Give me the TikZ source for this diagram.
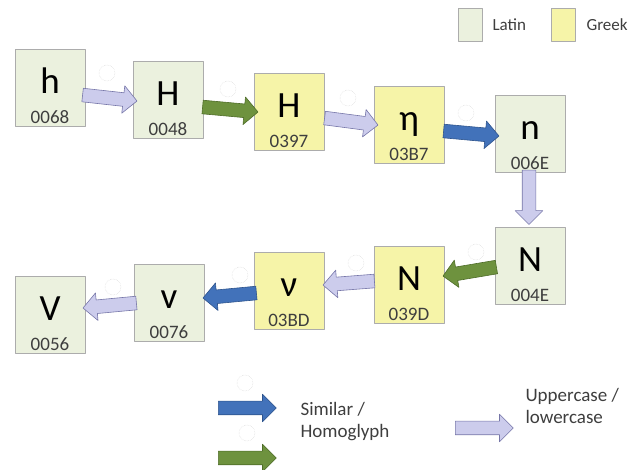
\documentclass[tikz,border=0pt]{standalone}
\usepackage{fontspec}
\setmainfont{Carlito}
\usepackage{tikz}
\usetikzlibrary{calc,shapes.arrows}

\definecolor{latinfill}{RGB}{235,241,222}
\definecolor{greekfill}{RGB}{246,244,168}
\definecolor{boxline}{RGB}{172,172,172}
\definecolor{lavfill}{RGB}{204,204,236}
\definecolor{lavline}{RGB}{118,118,168}
\definecolor{simfill}{RGB}{66,114,186}
\definecolor{simline}{RGB}{46,84,140}
\definecolor{homfill}{RGB}{110,146,62}
\definecolor{homline}{RGB}{78,108,40}
\definecolor{codegray}{RGB}{62,62,62}

% glyph box: style, name, x, y, letter, code point
\newcommand{\glyphbox}[6]{%
  \node[#1] (#2) at (#3,#4) {};
  \node[glyph,anchor=base] (#2-l) at ([yshift=-6pt]#2.center) {#5};
  \node[code,anchor=base] (#2-c) at ([yshift=3pt]#2.south) {#6};}

% block arrow from one point to another
\newcommand{\blockarrow}[3]{%
  \path let \p1=(#2), \p2=(#3),
    \n1={atan2(\y2-\y1,\x2-\x1)}, \n2={veclen(\x2-\x1,\y2-\y1)} in
    node[#1,rotate=\n1,minimum height=\n2,anchor=tail] at (\p1) {};}

\begin{document}
\begin{tikzpicture}[x=1pt,y=-1pt,line join=round]
    % styles
    \tikzstyle{latin}=[rectangle,fill=latinfill,draw=boxline,line width=0.6pt,minimum width=70pt,minimum height=77pt]
    \tikzstyle{greek}=[rectangle,fill=greekfill,draw=boxline,line width=0.6pt,minimum width=70pt,minimum height=77pt]
    \tikzstyle{glyph}=[inner sep=0pt,font=\fontsize{37}{37}\selectfont]
    \tikzstyle{code}=[inner sep=0pt,text=codegray,font=\fontsize{19}{19}\selectfont]
    \tikzstyle{barrow}=[single arrow,inner xsep=0pt,inner ysep=6.5pt,single arrow head extend=7pt,line width=0.6pt]
    \tikzstyle{caseof}=[barrow,fill=lavfill,draw=lavline]
    \tikzstyle{similar}=[barrow,fill=simfill,draw=simline]
    \tikzstyle{homo}=[barrow,fill=homfill,draw=homline]
    \tikzstyle{ghost}=[draw=gray!30,densely dotted,line width=0.5pt]
    \tikzstyle{legtext}=[text=codegray,align=left,anchor=west,font=\fontsize{19}{22}\selectfont]

    \useasboundingbox (0,0) rectangle (633,470);

    % ----------------------------------------------------
    % legend (top right)
    % ----------------------------------------------------
    \node[latin,minimum width=24pt,minimum height=33pt] (keyL) at (470,25) {};
    \node[legtext,font=\fontsize{17}{17}\selectfont] (keyLt) at (489,25) {Latin};
    \node[greek,minimum width=24pt,minimum height=33pt] (keyG) at (563,25) {};
    \node[legtext,font=\fontsize{17}{17}\selectfont] (keyGt) at (583,25) {Greek};

    % ----------------------------------------------------
    % upper row
    % ----------------------------------------------------
    \glyphbox{latin}{u0068}{50}{88}{h}{0068}
    \glyphbox{latin}{u0048}{168}{100}{H}{0048}
    \glyphbox{greek}{u0397}{289}{112}{Η}{0397}
    \glyphbox{greek}{u03B7}{409}{125}{η}{03B7}
    \glyphbox{latin}{u006E}{530}{134}{n}{006E}

    % lower row
    \glyphbox{latin}{u004E}{530}{266}{N}{004E}
    \glyphbox{greek}{u039D}{409}{285}{Ν}{039D}
    \glyphbox{greek}{u03BD}{289}{291}{ν}{03BD}
    \glyphbox{latin}{u0076}{169}{303}{v}{0076}
    \glyphbox{latin}{u0056}{50}{315}{V}{0056}

    % ----------------------------------------------------
    % arrows between the boxes
    % ----------------------------------------------------
    \blockarrow{caseof}{$(u0068.east)+(-3,7)$}{$(u0048.west)+(4,1)$}
    \blockarrow{homo}{$(u0048.east)+(-1,7)$}{$(u0397.west)+(4,0)$}
    \blockarrow{caseof}{$(u0397.east)+(0,6)$}{$(u03B7.west)+(4,0)$}
    \blockarrow{similar}{$(u03B7.east)+(-1,6)$}{$(u006E.west)+(4,2)$}
    \blockarrow{caseof}{$(u006E.south)+(-1,-3)$}{$(u004E.north)+(-1,-3)$}
    \blockarrow{homo}{$(u004E.west)+(2,1)$}{$(u039D.east)+(-1,-9)$}
    \blockarrow{caseof}{$(u039D.west)+(1,-4)$}{$(u03BD.east)+(-1,-6)$}
    \blockarrow{similar}{$(u03BD.west)+(3,2)$}{$(u0076.east)+(-1,-5)$}
    \blockarrow{caseof}{$(u0076.west)+(3,0)$}{$(u0056.east)+(-2,-7)$}

    % faint dotted marks above the arrows
    \foreach \cx/\cy in {107/73,228/89,348/98,466/113,476/252,356/263,240/275,113/287,245/383,247/433}
      \draw[ghost] (\cx,\cy) circle (8);

    % ----------------------------------------------------
    % legend (bottom)
    % ----------------------------------------------------
    \coordinate (simA) at (218,408);
    \coordinate (simB) at (276,408);
    \coordinate (homA) at (218,458);
    \coordinate (homB) at (276,458);
    \coordinate (casA) at (455,428);
    \coordinate (casB) at (513,428);
    \blockarrow{similar}{simA}{simB}
    \blockarrow{homo}{homA}{homB}
    \blockarrow{caseof}{casA}{casB}
    \node[legtext] (simtext) at (297,422) {Similar /\\Homoglyph};
    \node[legtext] (castext) at (522,406) {Uppercase /\\lowercase};
\end{tikzpicture}
\end{document}
